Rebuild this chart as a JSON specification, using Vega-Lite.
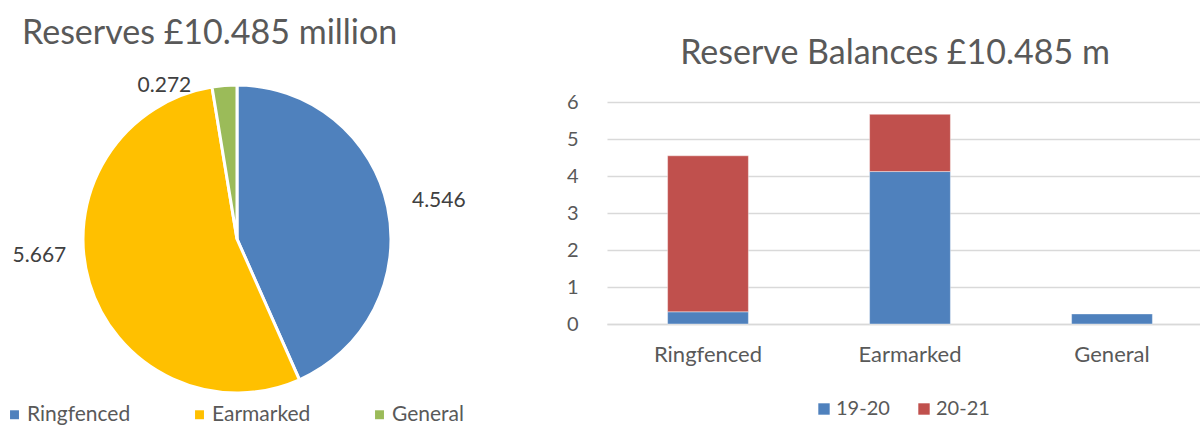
{
  "$schema": "https://vega.github.io/schema/vega-lite/v6.json",
  "background": "white",
  "padding": {"left": 0, "top": 16, "right": 0, "bottom": 0},
  "spacing": 92,
  "resolve": {"scale": {"color": "independent"}, "legend": {"color": "independent"}},
  "config": {
    "font": "Lato",
    "view": {"stroke": null},
    "title": {"fontWeight": "normal", "color": "#595959", "baseline": "alphabetic"}
  },
  "hconcat": [
    {
      "width": 474,
      "height": 274,
      "title": {"text": "Reserves £10.485 million", "anchor": "start", "frame": "group", "fontSize": 34, "dx": 22, "offset": 24},
      "data": {"values": [
        {"category": "Ringfenced", "value": 4.546},
        {"category": "Earmarked", "value": 5.667},
        {"category": "General", "value": 0.272}
      ]},
      "transform": [{"window": [{"op": "row_number", "as": "rank"}]}],
      "encoding": {
        "theta": {"field": "value", "type": "quantitative", "stack": true},
        "order": {"field": "rank", "type": "quantitative"}
      },
      "layer": [
        {
          "mark": {"type": "arc", "outerRadius": 154, "stroke": "white", "strokeWidth": 3},
          "encoding": {
            "color": {
              "field": "category", "type": "nominal",
              "scale": {"domain": ["Ringfenced", "Earmarked", "General"], "range": ["#4F81BD", "#FFC000", "#9BBB59"]},
              "legend": {"title": null, "orient": "none", "legendX": 4, "legendY": 302, "direction": "horizontal", "padding": 0, "symbolType": "square", "symbolSize": 80, "symbolStrokeWidth": 0, "labelFontSize": 21, "labelColor": "#595959", "labelOffset": 2, "columnPadding": 58, "labelLimit": 300}
            }
          }
        },
        {
          "mark": {"type": "text", "radius": 100, "dx": 104, "dy": -17, "fontSize": 21, "color": "#404040"},
          "encoding": {
            "detail": {"field": "category"},
            "text": {"condition": {"test": "datum.category === 'Ringfenced'", "field": "value", "type": "quantitative", "format": ".3f"}, "value": ""}
          }
        },
        {
          "mark": {"type": "text", "radius": 59, "dx": -141, "dy": 0, "fontSize": 21, "color": "#404040"},
          "encoding": {
            "detail": {"field": "category"},
            "text": {"condition": {"test": "datum.category === 'Earmarked'", "field": "value", "type": "quantitative", "format": ".3f"}, "value": ""}
          }
        },
        {
          "mark": {"type": "text", "radius": 154, "dx": -60, "dy": 0, "fontSize": 21, "color": "#404040"},
          "encoding": {
            "detail": {"field": "category"},
            "text": {"condition": {"test": "datum.category === 'General'", "field": "value", "type": "quantitative", "format": ".3f"}, "value": ""}
          }
        }
      ]
    },
    {
      "width": 606,
      "height": 222,
      "title": {"text": "Reserve Balances £10.485 m", "anchor": "middle", "frame": "group", "fontSize": 34, "dx": -15, "offset": 21},
      "data": {"values": [
        {"category": "Ringfenced", "year": "19-20", "value": 0.33},
        {"category": "Ringfenced", "year": "20-21", "value": 4.216},
        {"category": "Earmarked", "year": "19-20", "value": 4.12},
        {"category": "Earmarked", "year": "20-21", "value": 1.547},
        {"category": "General", "year": "19-20", "value": 0.272}
      ]},
      "mark": {"type": "bar", "stroke": "white", "strokeOpacity": 0.4, "strokeWidth": 1},
      "encoding": {
        "x": {
          "field": "category", "type": "nominal", "sort": ["Ringfenced", "Earmarked", "General"],
          "scale": {"paddingInner": 0.6, "paddingOuter": 0.3},
          "axis": {"title": null, "labelAngle": 0, "labelFontSize": 22, "labelColor": "#595959", "ticks": false, "domainColor": "#d9d9d9", "domainWidth": 1.5, "labelPadding": 20}
        },
        "y": {
          "field": "value", "type": "quantitative", "stack": true,
          "scale": {"domain": [0, 6], "nice": false},
          "axis": {"title": null, "values": [0, 1, 2, 3, 4, 5, 6], "labelFontSize": 20, "labelColor": "#595959", "ticks": false, "domain": false, "gridColor": "#d9d9d9", "gridWidth": 1.5, "labelPadding": 29}
        },
        "color": {
          "field": "year", "type": "nominal",
          "scale": {"domain": ["19-20", "20-21"], "range": ["#4F81BD", "#C0504D"]},
          "legend": {"title": null, "orient": "none", "legendX": 207, "legendY": 297, "direction": "horizontal", "padding": 0, "symbolType": "square", "symbolSize": 130, "symbolStrokeWidth": 0, "labelFontSize": 20, "labelColor": "#595959", "labelOffset": 2, "columnPadding": 24}
        },
        "order": {"field": "year", "type": "nominal"}
      }
    }
  ]
}
